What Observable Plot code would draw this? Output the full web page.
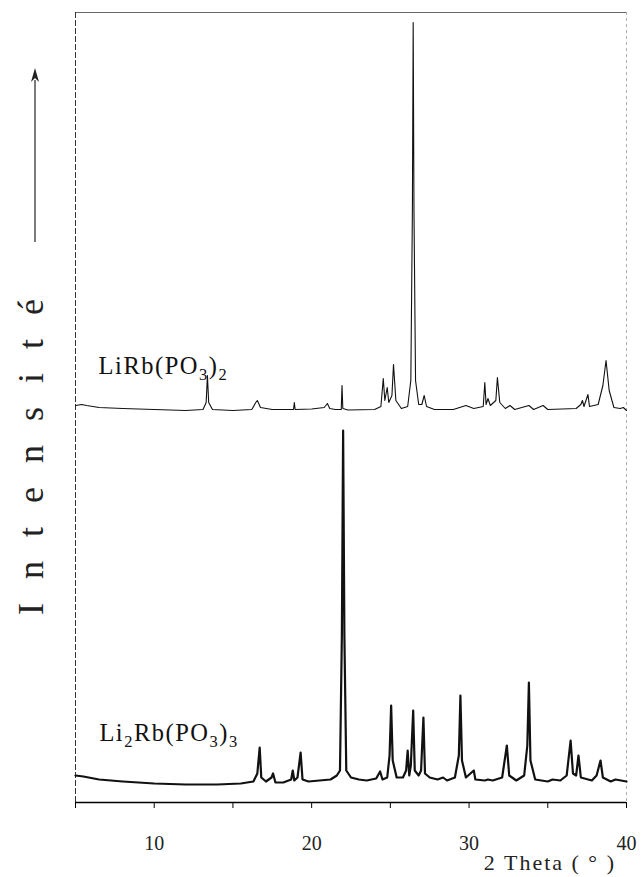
<!DOCTYPE html>
<html><head><meta charset="utf-8">
<script src="https://cdn.jsdelivr.net/npm/d3@7"></script>
<script src="https://cdn.jsdelivr.net/npm/@observablehq/plot@0.6"></script>
<style>body{margin:0;background:#fff}</style>
</head><body><div id="chart"></div>
<script>
// ---- data (intensity in arbitrary units) ----
const xTicks = [5, 10, 15, 20, 25, 30, 35, 40];
const xTickLabels = ["10", "20", "30", "40"];
const xLabel = "2 Theta ( ° )";
const yLabel = "Intensité";

// LiRb(PO3)2 pattern (upper trace)
const thetaA = [5.0,5.4,5.7,6.5,8,10,12,13.1,13.3,13.38,13.46,13.7,15,16.2,16.45,16.55,16.75,17.5,18.85,18.9,18.95,20,20.8,21.0,21.15,21.5,21.88,21.93,21.98,22.3,24.0,24.4,24.55,24.65,24.8,24.9,25.1,25.2,25.35,25.7,26.1,26.3,26.4,26.45,26.5,26.6,26.8,27.0,27.15,27.3,27.8,29.0,29.8,30.3,30.9,31.0,31.08,31.2,31.35,31.7,31.8,31.95,32.3,32.6,32.9,33.8,34.1,34.7,35,36.8,37.1,37.2,37.3,37.55,37.65,38.2,38.5,38.7,38.9,39.2,39.6,39.8,40];
const intA  = [5,6,5,3,2,1,0,1,8,35,8,1,0,1,8,10,3,1,1,8,1,1.5,3,7,2,1,1,25,2,0.5,1,4,32,10,23,8,15,46,10,2,4,30,200,388,200,30,6,6,15,4,1,1,5,2,4,28,6,12,5,10,33,8,2,5,1,5,1,5,1,2,6,10,4,16,4,6,25,50,20,3,2,3,0];

// Li2Rb(PO3)3 pattern (lower trace)
const thetaB = [5.0,5.5,6.5,8,10,12,14,15.5,16.3,16.55,16.7,16.8,17.1,17.45,17.55,17.7,18.2,18.7,18.8,18.9,19.1,19.3,19.42,19.8,20.5,21.2,21.6,21.8,21.92,22.0,22.08,22.2,22.5,23.0,23.5,24.1,24.35,24.5,24.8,24.95,25.05,25.15,25.4,25.8,26.0,26.1,26.2,26.3,26.45,26.55,26.8,26.95,27.1,27.2,27.5,28.0,28.35,28.6,29.1,29.35,29.45,29.55,29.8,30.3,30.4,31.0,31.2,31.5,32.1,32.4,32.55,33.0,33.5,33.7,33.8,33.9,34.2,35.0,35.3,35.8,36.2,36.45,36.6,36.8,36.95,37.1,37.8,38.1,38.35,38.5,39.0,39.3,40.0];
const intB  = [10,9,6,4,2,1,1,2,4,12,38,8,4,8,12,3,3,6,15,5,8,33,6,4,5,6,10,15,150,355,150,15,8,6,5,7,14,6,8,30,80,25,8,8,15,35,10,20,75,15,10,15,68,12,8,6,8,5,8,30,90,25,8,15,6,5,6,5,8,40,10,5,10,40,103,25,6,4,6,5,10,45,12,10,30,8,5,10,25,8,4,6,4];

const sampleNames = ["LiRb(PO3)2", "Li2Rb(PO3)3"];

// ---- build tables ----
const offsetA = 392, offsetB = 17;   // vertical stacking of the two patterns
const rowsA = thetaA.map((t, i) => ({theta: t, y: intA[i] + offsetA}));
const rowsB = thetaB.map((t, i) => ({theta: t, y: intB[i] + offsetB}));

const serif = "'Liberation Serif', 'Times New Roman', serif";
const chart = Plot.plot({
  width: 642, height: 877,
  marginLeft: 75, marginRight: 16, marginTop: 12, marginBottom: 75,
  style: {fontFamily: serif, background: "#fff", color: "#000"},
  x: {domain: [5, 40]},
  y: {domain: [0, 790], axis: null},
  marks: [
    Plot.ruleY([790], {stroke: "#666", strokeWidth: 1}),
    Plot.ruleX([5], {stroke: "#333", strokeWidth: 1, strokeDasharray: "6,2"}),
    Plot.ruleX([40], {stroke: "#999", strokeWidth: 0.8, strokeDasharray: "3,3"}),
    Plot.axisX({ticks: xTicks, tickSize: 6, tickPadding: 27, fontSize: 20, fontFamily: serif, label: null,
      fill: "#222", tickFormat: d => xTickLabels.includes(String(d)) ? String(d) : ""}),
    Plot.ruleY([0], {stroke: "#000", strokeWidth: 1.3}),
    Plot.line(rowsA, {x: "theta", y: "y", stroke: "#111", strokeWidth: 1.1}),
    Plot.line(rowsB, {x: "theta", y: "y", stroke: "#111", strokeWidth: 2.2})
  ]
});
document.getElementById("chart").append(chart);

// ---- annotations ----
const svg = d3.select(chart);
const xs = chart.scale("x"), ys = chart.scale("y");

function formula(name, theta, yv) {
  const t = svg.append("text")
    .attr("x", xs.apply(theta)).attr("y", ys.apply(yv))
    .attr("text-anchor", "start")
    .attr("font-family", serif).attr("font-size", 24.5).attr("letter-spacing", 1.5).attr("fill", "#111");
  const parts = name.match(/\d+|\D+/g);
  let down = false;
  parts.forEach(p => {
    const isSub = /\d/.test(p);
    const ts = t.append("tspan").text(p);
    if (isSub) { ts.attr("font-size", 16.5).attr("dy", down ? 0 : 6); down = true; }
    else { ts.attr("dy", down ? -6 : 0); down = false; }
  });
}
formula(sampleNames[0], 6.5, 428);
formula(sampleNames[1], 6.55, 61);

// x-axis title
svg.append("text")
  .attr("x", xs.apply(40) - 10).attr("y", ys.apply(0) + 68)
  .attr("text-anchor", "end").attr("font-family", serif).attr("font-size", 22)
  .attr("letter-spacing", 2).attr("fill", "#222").text(xLabel);

// y-axis title with arrow
const ax = 33;
svg.append("text")
  .attr("transform", `translate(${ax + 10},${ys.apply(357)}) rotate(-90)`)
  .attr("text-anchor", "middle")
  .attr("font-family", serif).attr("font-size", 36).attr("letter-spacing", 24)
  .attr("fill", "#222").text(yLabel);
svg.append("line")
  .attr("x1", ax + 2).attr("x2", ax + 2)
  .attr("y1", ys.apply(560)).attr("y2", ys.apply(722))
  .attr("stroke", "#222").attr("stroke-width", 1.2);
svg.append("path")
  .attr("d", `M${ax + 2},${ys.apply(722) - 12} l-4,14 l4,-4 l4,4 z`)
  .attr("fill", "#222");
</script>
</body></html>
